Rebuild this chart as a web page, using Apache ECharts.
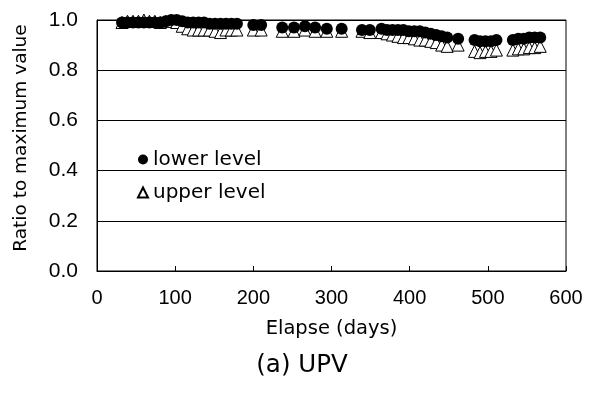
<!DOCTYPE html>
<html>
<head>
<meta charset="utf-8">
<script src="https://cdn.jsdelivr.net/npm/echarts@6/dist/echarts.min.js"></script>
<style>html,body{margin:0;padding:0;background:#fff}#c{width:590px;height:394px}</style>
</head>
<body>
<div id="c"></div>
<script>
const lowerDays = [32,39,46,53,60,67,74,81,88,95,102,109,116,123,130,137,144,151,158,165,172,179,200,210,237,252,266,279,294,313,339,349,364,371,378,385,392,399,406,413,420,427,434,441,448,462,483,490,497,504,511,532,539,546,553,560,567];
const lowerValues = [0.99,0.99,0.99,0.99,0.99,0.99,0.99,0.99,0.995,1.0,1.0,0.995,0.99,0.99,0.99,0.99,0.985,0.985,0.985,0.985,0.985,0.985,0.98,0.98,0.97,0.97,0.975,0.97,0.965,0.965,0.96,0.96,0.965,0.96,0.96,0.96,0.96,0.955,0.955,0.955,0.95,0.945,0.94,0.935,0.93,0.925,0.92,0.915,0.915,0.915,0.92,0.92,0.925,0.925,0.93,0.93,0.93];
const upperDays = lowerDays.slice();
const upperValues = [0.99,0.995,0.995,0.995,1.0,0.995,0.995,0.99,0.995,0.995,0.99,0.975,0.965,0.96,0.96,0.96,0.96,0.955,0.95,0.96,0.96,0.96,0.96,0.96,0.955,0.955,0.96,0.955,0.955,0.955,0.955,0.95,0.95,0.945,0.94,0.935,0.93,0.93,0.925,0.92,0.92,0.915,0.91,0.9,0.895,0.9,0.875,0.87,0.875,0.875,0.88,0.88,0.885,0.885,0.89,0.89,0.895];
const xTicks = [0,100,200,300,400,500,600];
const yTicks = [0.0,0.2,0.4,0.6,0.8,1.0];
const seriesNames = ['lower level','upper level'];
const xTitle = 'Elapse (days)';
const yTitle = 'Ratio to maximum value';
const caption = '(a) UPV';

const chart = echarts.init(document.getElementById('c'), null, {renderer:'canvas'});
const numFont = '"Liberation Sans", Arial, sans-serif';
const txtFont = '"DejaVu Sans", sans-serif';
chart.setOption({
  animation:false,
  backgroundColor:'#fff',
  grid:{left:97,right:24,top:20,bottom:123,show:true,borderColor:'#000',borderWidth:1,backgroundColor:'transparent'},
  xAxis:{type:'value',min:xTicks[0],max:xTicks[xTicks.length-1],interval:100,
    axisLine:{lineStyle:{color:'#000',width:1}},
    axisTick:{show:true,inside:true,length:5,lineStyle:{color:'#000'}},
    splitLine:{show:false},
    axisLabel:{color:'#000',fontSize:20,fontFamily:'Liberation Sans',margin:17},
    name:xTitle,nameLocation:'middle',nameGap:48,
    nameTextStyle:{color:'#000',fontSize:19.5,fontFamily:'DejaVu Sans'}},
  yAxis:{type:'value',min:yTicks[0],max:yTicks[yTicks.length-1],interval:0.2,
    axisLine:{show:true,lineStyle:{color:'#000',width:1}},
    axisTick:{show:false},
    splitLine:{show:true,lineStyle:{color:'#000',width:1}},
    axisLabel:{color:'#000',fontSize:21,fontFamily:'Liberation Sans',margin:19,formatter:v=>v.toFixed(1)}},
  legend:{orient:'vertical',left:132,top:144,itemWidth:10,itemHeight:10,itemGap:12,
    textStyle:{color:'#000',fontSize:20,fontFamily:'DejaVu Sans',lineHeight:21},
    data:[{name:seriesNames[0],icon:'circle'},{name:seriesNames[1],icon:'triangle'}]},
  graphic:[
    {type:'text',x:21,y:138,rotation:Math.PI/2,
     style:{text:yTitle,fill:'#000',font:'18.5px "DejaVu Sans"',textAlign:'center',textVerticalAlign:'middle'}},
    {type:'text',x:302,y:366,
     style:{text:caption,fill:'#000',font:'24.5px "DejaVu Sans"',textAlign:'center',textVerticalAlign:'middle'}}
  ],
  series:[
    {name:seriesNames[1],type:'scatter',symbol:'triangle',symbolSize:12,z:2,
     itemStyle:{color:'#fff',borderColor:'#000',borderWidth:1,opacity:1},
     data:upperDays.map((d,i)=>[d,upperValues[i]])},
    {name:seriesNames[0],type:'scatter',symbol:'circle',symbolSize:12,z:3,
     itemStyle:{color:'#000',borderColor:'#000',borderWidth:0,opacity:1},
     data:lowerDays.map((d,i)=>[d,lowerValues[i]])}
  ]
});
</script>
</body>
</html>
